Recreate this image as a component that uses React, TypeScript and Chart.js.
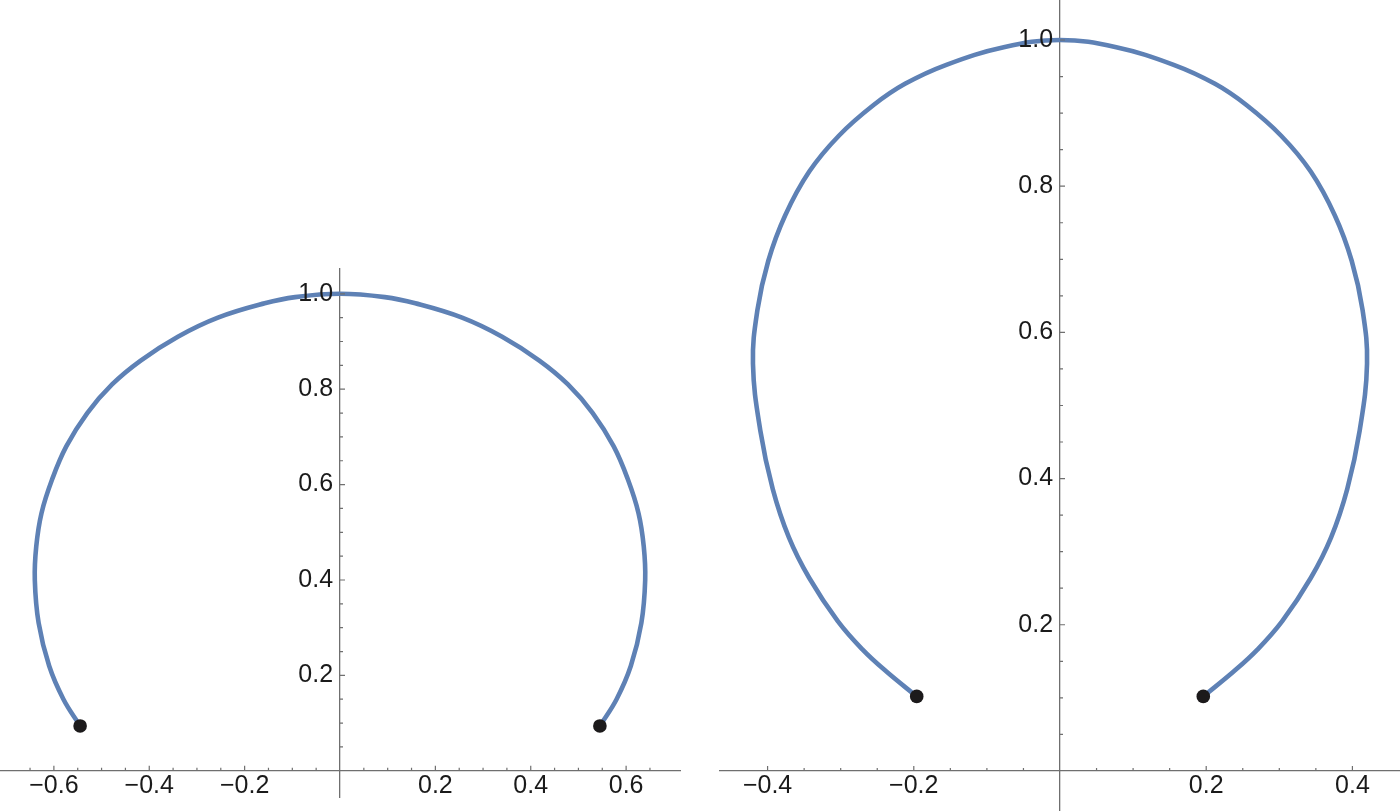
import React, { useEffect, useRef } from 'react';
import { Chart, registerables } from 'chart.js';

Chart.register(...registerables);

// ---------- data ----------
const leftCurveX = [-0.545, -0.58, -0.61, -0.632, -0.64, -0.637, -0.626, -0.604, -0.574, -0.53, -0.478, -0.418, -0.34, -0.256, -0.158, -0.094, 0, 0.094, 0.158, 0.256, 0.34, 0.418, 0.478, 0.53, 0.574, 0.604, 0.626, 0.637, 0.64, 0.632, 0.61, 0.58, 0.545];
const leftCurveY = [0.094, 0.15, 0.22, 0.31, 0.4, 0.47, 0.54, 0.61, 0.68, 0.75, 0.81, 0.86, 0.91, 0.95, 0.98, 0.993, 1.0, 0.993, 0.98, 0.95, 0.91, 0.86, 0.81, 0.75, 0.68, 0.61, 0.54, 0.47, 0.4, 0.31, 0.22, 0.15, 0.094];
const leftEndX = [-0.545, 0.545];
const leftEndY = [0.094, 0.094];

const rightCurveX = [-0.196, -0.2375, -0.27, -0.304, -0.343, -0.371, -0.393, -0.41, -0.42, -0.414, -0.399, -0.376, -0.343, -0.3025, -0.255, -0.212, -0.1555, -0.077, 0, 0.077, 0.1555, 0.212, 0.255, 0.3025, 0.343, 0.376, 0.399, 0.414, 0.42, 0.41, 0.393, 0.371, 0.343, 0.304, 0.27, 0.2375, 0.196];
const rightCurveY = [0.102, 0.136, 0.166, 0.205, 0.264, 0.32, 0.386, 0.466, 0.557, 0.63, 0.698, 0.76, 0.82, 0.869, 0.911, 0.94, 0.966, 0.99, 1.0, 0.99, 0.966, 0.94, 0.911, 0.869, 0.82, 0.76, 0.698, 0.63, 0.557, 0.466, 0.386, 0.32, 0.264, 0.205, 0.166, 0.136, 0.102];
const rightEndX = [-0.196, 0.196];
const rightEndY = [0.102, 0.102];

const leftXTickLabels = [-0.6, -0.4, -0.2, 0.2, 0.4, 0.6];
const leftYTickLabels = [0.2, 0.4, 0.6, 0.8, 1.0];
const rightXTickLabels = [-0.4, -0.2, 0.2, 0.4];
const rightYTickLabels = [0.2, 0.4, 0.6, 0.8, 1.0];

const leftRange = { xMin: -0.713, xMax: 0.713, yMin: -0.055, yMax: 1.052 };
const rightRange = { xMin: -0.4651, xMax: 0.4651, yMin: -0.0534, yMax: 1.0547 };

// ---------- styles ----------
const CURVE_COLOR = '#5E81B5';
const DOT_COLOR = '#1c1a1b';
const AXIS_COLOR = '#6f6f6f';
const LABEL_COLOR = '#1a1a1a';
const FONT = { family: "'Liberation Sans', Arial, sans-serif", size: 25 };

const MINOR = 0.05;
const MAJOR = 0.2;

function onStep(v: number, s: number) {
  return Math.abs(v / s - Math.round(v / s)) < 1e-6;
}

function fmt(v: number) {
  return (v < 0 ? '\u2212' : '') + Math.abs(v).toFixed(1);
}

function labelFor(list: number[], suffix: string) {
  return (value: any) => {
    const v = Number(value);
    const hit = list.find((l) => Math.abs(l - v) < 1e-6);
    return hit === undefined ? '' : fmt(hit) + suffix;
  };
}

const tickMarks = {
  id: 'tickMarks',
  afterDatasetsDraw(chart: any) {
    const xs = chart.scales.x;
    const ys = chart.scales.y;
    const ctx = chart.ctx;
    const x0 = xs.getPixelForValue(0);
    const y0 = ys.getPixelForValue(0);
    ctx.save();
    ctx.strokeStyle = AXIS_COLOR;
    ctx.lineWidth = 1.2;
    ctx.beginPath();
    for (const t of xs.ticks) {
      const v = t.value;
      if (!onStep(v, MINOR) || Math.abs(v) < 1e-9) continue;
      const len = onStep(v, MAJOR) ? 5 : 3;
      const p = xs.getPixelForValue(v);
      ctx.moveTo(p, y0);
      ctx.lineTo(p, y0 - len);
    }
    for (const t of ys.ticks) {
      const v = t.value;
      if (!onStep(v, MINOR) || Math.abs(v) < 1e-9) continue;
      const len = onStep(v, MAJOR) ? 5 : 3;
      const p = ys.getPixelForValue(v);
      ctx.moveTo(x0, p);
      ctx.lineTo(x0 + len, p);
    }
    ctx.stroke();
    ctx.restore();
  },
};

function zeroFit(horizontal: boolean) {
  return (s: any) => {
    if (horizontal) s.height = 0;
    else s.width = 0;
    s.paddingLeft = 0;
    s.paddingRight = 0;
    s.paddingTop = 0;
    s.paddingBottom = 0;
  };
}

type PlotProps = {
  left: number;
  curveX: number[];
  curveY: number[];
  endX: number[];
  endY: number[];
  range: { xMin: number; xMax: number; yMin: number; yMax: number };
  xLabels: number[];
  yLabels: number[];
  padding: { left: number; right: number; top: number; bottom: number };
};

function Plot(props: PlotProps) {
  const ref = useRef<HTMLCanvasElement | null>(null);
  useEffect(() => {
    if (!ref.current) return;
    const curve = props.curveX.map((x, i) => ({ x, y: props.curveY[i] }));
    const ends = props.endX.map((x, i) => ({ x, y: props.endY[i] }));
    const chart = new Chart(ref.current, {
      type: 'scatter',
      data: {
        datasets: [
          {
            data: ends,
            showLine: false,
            pointRadius: 6.8,
            pointBackgroundColor: DOT_COLOR,
            pointBorderWidth: 0,
            pointHoverRadius: 6.8,
          },
          {
            data: curve,
            showLine: true,
            borderColor: CURVE_COLOR,
            borderWidth: 4.6,
            pointRadius: 0,
            pointHoverRadius: 0,
            tension: 0.4,
            fill: false,
          },
        ],
      } as any,
      options: {
        responsive: false,
        animation: false,
        events: [],
        layout: { padding: props.padding, autoPadding: false },
        plugins: { legend: { display: false }, tooltip: { enabled: false } },
        scales: {
          x: {
            type: 'linear',
            min: props.range.xMin,
            max: props.range.xMax,
            position: { y: 0 },
            grid: { display: false, drawTicks: false },
            border: { display: true, color: AXIS_COLOR, width: 1.3 },
            ticks: {
              stepSize: MINOR,
              autoSkip: false,
              maxRotation: 0,
              minRotation: 0,
              maxTicksLimit: 1000,
              padding: 0,
              font: FONT,
              color: LABEL_COLOR,
              z: 1,
              callback: labelFor(props.xLabels, ''),
            },
            afterFit: zeroFit(true),
          },
          y: {
            type: 'linear',
            min: props.range.yMin,
            max: props.range.yMax,
            position: { x: 0 },
            grid: { display: false, drawTicks: false },
            border: { display: true, color: AXIS_COLOR, width: 1.3 },
            ticks: {
              stepSize: MINOR,
              autoSkip: false,
              maxTicksLimit: 1000,
              padding: 0,
              font: FONT,
              color: LABEL_COLOR,
              z: 1,
              callback: labelFor(props.yLabels, ' '),
            },
            afterFit: zeroFit(false),
          },
        } as any,
      },
      plugins: [tickMarks],
    });
    return () => chart.destroy();
  }, []);
  return (
    <canvas
      ref={ref}
      width={700}
      height={812}
      style={{ position: 'absolute', left: props.left, top: 0, width: 700, height: 812 }}
    />
  );
}

export default function App() {
  useEffect(() => {
    document.body.style.margin = '0';
    document.body.style.overflow = 'hidden';
    document.body.style.background = '#ffffff';
  }, []);
  return (
    <div style={{ position: 'absolute', left: 0, top: 0, width: 1400, height: 812, background: '#ffffff', overflow: 'hidden' }}>
      <Plot
        left={0}
        curveX={leftCurveX}
        curveY={leftCurveY}
        endX={leftEndX}
        endY={leftEndY}
        range={leftRange}
        xLabels={leftXTickLabels}
        yLabels={leftYTickLabels}
        padding={{ left: 0, right: 20, top: 269, bottom: 15 }}
      />
      <Plot
        left={700}
        curveX={rightCurveX}
        curveY={rightCurveY}
        endX={rightEndX}
        endY={rightEndY}
        range={rightRange}
        xLabels={rightXTickLabels}
        yLabels={rightYTickLabels}
        padding={{ left: 20, right: 0, top: 0, bottom: 2 }}
      />
    </div>
  );
}
